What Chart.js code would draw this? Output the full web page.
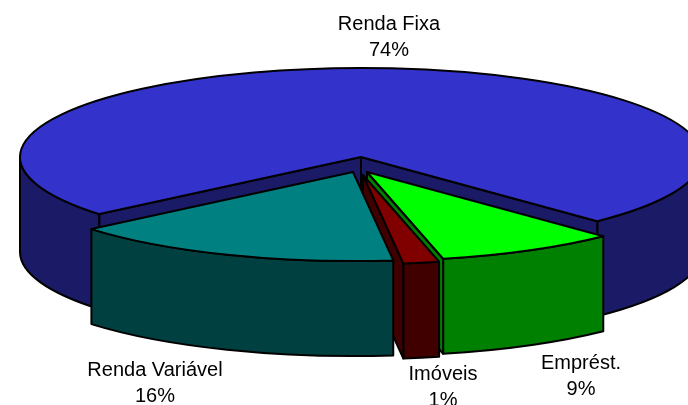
<!DOCTYPE html>
<html>
<head>
<meta charset="utf-8">
<style>html,body{margin:0;padding:0;background:#fff}canvas{display:block}</style>
<script src="https://cdn.jsdelivr.net/npm/chart.js@4"></script>
</head>
<body>
<canvas id="c" width="688" height="405"></canvas>
<script>
const categories = ['Renda Fixa', 'Emprést.', 'Imóveis', 'Renda Variável'];
const shares = [73.9, 8.6, 1.7, 15.8];
const shareLabels = ['74%', '9%', '1%', '16%'];
const topColors = ['#3333CC', '#00FF00', '#800000', '#008080'];
const sideColors = ['#1A1A66', '#008000', '#400000', '#004040'];

const scene = {
  cx: 361, cy: 157, rx: 341, ry: 89, depth: 95,
  shiftX: [0, 6, 2, -8],
  shiftY: [0, 15, 18, 15],
  labelX: [389, 581, 443, 155],
  labelY: [30, 369, 380, 376],
  lineGap: 26,
  font: '20px "Liberation Sans", Arial, sans-serif'
};

const tiltedPie = {
  id: 'tiltedPie',
  beforeDatasetsDraw(chart) {
    const ctx = chart.ctx;
    const arcs = chart.getDatasetMeta(0).data;
    const { rx, ry, depth } = scene;
    const TAU = Math.PI * 2;
    ctx.save();
    ctx.lineWidth = 2;
    ctx.lineJoin = 'round';
    ctx.strokeStyle = '#000';
    arcs.forEach((arc, i) => {
      const a0 = arc.startAngle, a1 = arc.endAngle;
      const cx = scene.cx + scene.shiftX[i];
      const cy = scene.cy + scene.shiftY[i];
      ctx.fillStyle = sideColors[i];
      // outer wall: only the part on the viewer's side
      for (let k = -1; k <= 2; k++) {
        const s = Math.max(a0, k * TAU), e = Math.min(a1, k * TAU + Math.PI);
        if (e > s) {
          ctx.beginPath();
          ctx.ellipse(cx, cy, rx, ry, 0, s, e, false);
          ctx.ellipse(cx, cy + depth, rx, ry, 0, e, s, true);
          ctx.closePath();
          ctx.fill();
          ctx.stroke();
        }
      }
      // cut faces turned towards the viewer
      const face = (a) => {
        const x = cx + rx * Math.cos(a), y = cy + ry * Math.sin(a);
        ctx.beginPath();
        ctx.moveTo(cx, cy);
        ctx.lineTo(x, y);
        ctx.lineTo(x, y + depth);
        ctx.lineTo(cx, cy + depth);
        ctx.closePath();
        ctx.fill();
        ctx.stroke();
      };
      if (Math.cos(a0) < 0) face(a0);
      if (Math.cos(a1) > 0) face(a1);
      // top
      ctx.fillStyle = topColors[i];
      ctx.beginPath();
      ctx.moveTo(cx, cy);
      ctx.ellipse(cx, cy, rx, ry, 0, a0, a1, false);
      ctx.closePath();
      ctx.fill();
      ctx.stroke();
    });
    // labels
    ctx.fillStyle = '#000';
    ctx.font = scene.font;
    ctx.textAlign = 'center';
    ctx.textBaseline = 'alphabetic';
    categories.forEach((name, i) => {
      ctx.fillText(name, scene.labelX[i], scene.labelY[i]);
      ctx.fillText(shareLabels[i], scene.labelX[i], scene.labelY[i] + scene.lineGap);
    });
    ctx.restore();
    return false;
  }
};

new Chart(document.getElementById('c'), {
  type: 'pie',
  data: {
    labels: categories,
    datasets: [{ data: shares, backgroundColor: topColors, borderColor: '#000', borderWidth: 2 }]
  },
  options: {
    responsive: false,
    animation: false,
    rotation: 230.1,
    plugins: { legend: { display: false }, tooltip: { enabled: false } }
  },
  plugins: [tiltedPie]
});
</script>
</body>
</html>
